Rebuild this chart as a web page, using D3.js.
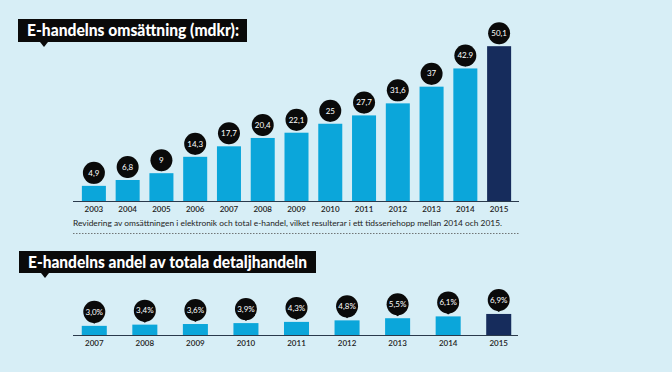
<!DOCTYPE html>
<html>
<head>
<meta charset="utf-8" />
<script src="https://cdnjs.cloudflare.com/ajax/libs/d3/7.8.5/d3.min.js"></script>
<style>
body { margin: 0; background: #d7eef6; }
svg { display: block; }
</style>
</head>
<body>
<svg id="chart" width="672" height="372"></svg>
<script>
// top chart: turnover (mdkr)
var years1 = ["2003","2004","2005","2006","2007","2008","2009","2010","2011","2012","2013","2014","2015"];
var values1 = [4.9, 6.8, 9, 14.3, 17.7, 20.4, 22.1, 25, 27.7, 31.6, 37, 42.9, 50.1];
var labels1 = ["4,9","6,8","9","14,3","17,7","20,4","22,1","25","27,7","31,6","37","42.9","50,1"];

// bottom chart: share of total retail (%)
var years2 = ["2007","2008","2009","2010","2011","2012","2013","2014","2015"];
var values2 = [3.0, 3.4, 3.6, 3.9, 4.3, 4.8, 5.5, 6.1, 6.9];
var labels2 = ["3,0%","3,4%","3,6%","3,9%","4,3%","4,8%","5,5%","6,1%","6,9%"];

var barColor = "#0ba6da", lastColor = "#162c5c", axisColor = "#2a3a4c";

var svg = d3.select("#chart");

function titleBox(x, y, w, h, text, fs, tl) {
    var g = svg.append("g");
    g.append("rect").attr("x", x).attr("y", y).attr("width", w).attr("height", h).attr("fill", "#0a0a0a");
    g.append("path")
        .attr("d", "M" + (x + 22) + "," + (y + h) + "L" + (x + 30) + "," + (y + h) + "L" + (x + 26) + "," + (y + h + 5) + "Z")
        .attr("fill", "#0a0a0a");
    g.append("text").attr("x", x + 9).attr("y", y + h / 2 + fs * 0.36)
        .attr("fill", "#fff").attr("font-family", "Lato, sans-serif").attr("font-weight", 900)
        .attr("font-size", fs).attr("textLength", tl).attr("lengthAdjust", "spacingAndGlyphs")
        .text(text);
}

function barChart(years, values, labels, xRange, base, pxPerUnit, bubbleGap, axisX0, axisX1) {
    var x = d3.scaleBand().domain(years).range(xRange).paddingInner(xRange[2]).paddingOuter(xRange[2] / 2);
    var y = d3.scaleLinear().domain([0, 10]).range([base, base - 10 * pxPerUnit]);
    var data = years.map(function(d, i) { return {year: d, value: values[i], label: labels[i], last: i == years.length - 1}; });

    svg.append("g").selectAll("rect").data(data).enter().append("rect")
        .attr("x", function(d) { return x(d.year); })
        .attr("y", function(d) { return y(d.value); })
        .attr("width", x.bandwidth())
        .attr("height", function(d) { return base - y(d.value); })
        .attr("fill", function(d) { return d.last ? lastColor : barColor; });

    svg.append("line").attr("x1", axisX0).attr("x2", axisX1).attr("y1", base + 0.5).attr("y2", base + 0.5)
        .attr("stroke", axisColor).attr("stroke-width", 1.2);

    var ax = svg.append("g").attr("transform", "translate(0," + base + ")")
        .call(d3.axisBottom(x).tickSize(0).tickPadding(5));
    ax.select(".domain").remove();
    ax.selectAll("text").attr("font-family", "Lato, sans-serif").attr("font-size", 8)
        .attr("font-weight", 600).attr("fill", "#222");

    var b = svg.append("g").selectAll("g").data(data).enter().append("g")
        .attr("transform", function(d) { return "translate(" + (x(d.year) + x.bandwidth() / 2) + "," + (y(d.value) - bubbleGap) + ")"; });
    b.append("circle").attr("r", 11).attr("fill", "#0a0a0a");
    b.append("path").attr("d", "M-4,9L4,9L0," + (bubbleGap - 2) + "Z").attr("fill", "#0a0a0a");
    b.append("text").attr("text-anchor", "middle").attr("y", 2.8)
        .attr("font-family", "Lato, sans-serif").attr("font-size", 8)
        .attr("fill", "#fff").text(function(d) { return d.label; });
}

titleBox(18, 19, 229, 23, "E-handelns omsättning (mdkr):", 16, 212);
barChart(years1, values1, labels1, [77, 516, 0.289], 201, 3.09, 13, 73, 519);

svg.append("text").attr("x", 73).attr("y", 226)
    .attr("font-family", "Lato, sans-serif").attr("font-size", 8).attr("fill", "#222")
    .attr("textLength", 429).attr("lengthAdjust", "spacingAndGlyphs")
    .text("Revidering av omsättningen i elektronik och total e-handel, vilket resulterar i ett tidsseriehopp mellan 2014 och 2015.");
svg.append("line").attr("x1", 73).attr("x2", 520).attr("y1", 233.5).attr("y2", 233.5)
    .attr("stroke", "#555").attr("stroke-width", 0.8).attr("stroke-dasharray", "1.5,1.5");

titleBox(19, 251, 297, 22, "E-handelns andel av totala detaljhandeln", 17, 279);
barChart(years2, values2, labels2, [69, 524, 0.505], 335, 3.05, 14, 73, 518);
</script>
</body>
</html>
